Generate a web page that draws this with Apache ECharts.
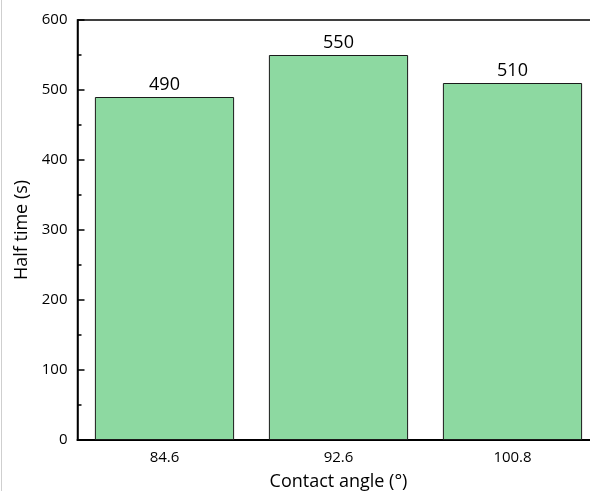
<!DOCTYPE html>
<html>
<head>
<meta charset="utf-8">
<script src="https://cdn.jsdelivr.net/npm/echarts@6/dist/echarts.min.js"></script>
<style>
  html, body { margin: 0; padding: 0; background: #fff; }
  #chart { width: 590px; height: 491px; }
</style>
</head>
<body>
<section id="chart"></section>
<script>
const categories = ["84.6", "92.6", "100.8"];
const halfTime = [490, 550, 510];
const yTicks = [0, 100, 200, 300, 400, 500, 600];

const font = "Open Sans";
let myChart = echarts.init(document.getElementById("chart"));
let option = {
  backgroundColor: "#fff",
  animation: false,
  textStyle: { fontFamily: font, color: "#000" },
  graphic: [
    {
      type: "line",
      shape: { x1: 1.5, y1: 0, x2: 1.5, y2: 491 },
      style: { stroke: "#cfcfcf", lineWidth: 1 }
    }
  ],
  grid: {
    left: 77.5,
    right: -9.5,
    top: 20,
    bottom: 51,
    outerBoundsMode: "none",
    containLabel: false,
    show: true,
    borderColor: "#000",
    borderWidth: 1.5
  },
  xAxis: {
    type: "category",
    data: categories,
    name: "Contact angle (°)",
    nameLocation: "middle",
    nameGap: 33,
    nameTextStyle: { fontSize: 18, fontFamily: font, color: "#000" },
    axisTick: { show: false },
    axisLine: { lineStyle: { color: "#000", width: 2 } },
    axisLabel: { fontSize: 15, color: "#000", margin: 10, fontFamily: font }
  },
  yAxis: {
    type: "value",
    min: yTicks[0],
    max: yTicks[yTicks.length - 1],
    interval: 100,
    name: "Half time (s)",
    nameLocation: "middle",
    nameGap: 47,
    nameTextStyle: { fontSize: 18, fontFamily: font, color: "#000" },
    axisLine: { show: true, lineStyle: { color: "#000", width: 1.5 } },
    axisTick: { show: true, inside: true, length: 7, lineStyle: { color: "#000", width: 1.5 } },
    minorTick: { show: true, splitNumber: 2, length: 4, lineStyle: { color: "#000", width: 1.5 } },
    splitLine: { show: false },
    axisLabel: { fontSize: 15, color: "#000", margin: 10, fontFamily: font }
  },
  series: [
    {
      type: "bar",
      data: halfTime,
      barCategoryGap: "20%",
      itemStyle: { color: "#8dd9a1", borderColor: "#1a1a1a", borderWidth: 1 },
      label: {
        show: true,
        position: "top",
        distance: 3,
        fontSize: 18,
        color: "#000",
        fontFamily: font
      }
    }
  ]
};
myChart.setOption(option);
</script>
</body>
</html>
